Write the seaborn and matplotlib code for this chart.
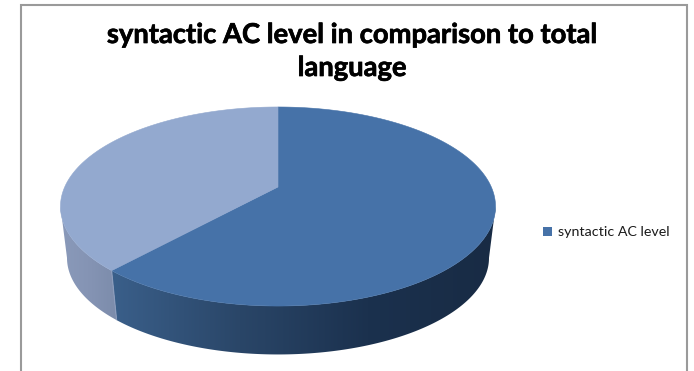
import numpy as np
import seaborn as sns
import matplotlib.pyplot as plt
import matplotlib.patheffects as pe
from matplotlib.colors import ListedColormap
from matplotlib.patches import Polygon, Rectangle

labels = ["syntactic AC level", "other language"]
shares = [61.6, 38.4]
title_lines = ["syntactic AC level in comparison to total", "language"]

sns.set_theme(style="white")
plt.rcParams["font.family"] = ["Lato", "DejaVu Sans"]

W, H = 694, 371
fig = plt.figure(figsize=(W / 100, H / 100), dpi=100)
ax = fig.add_axes([0, 0, 1, 1])
ax.axis("off")

# Perspective projection of the pie's disc onto the page
CX, APEX_Y, RX, RY, K = 278.0, 187.0, 213.3, 95.7, 0.196
DEPTH, SHRINK = 52.0, 0.97
RIM_LIMIT = np.arccos(-K)


def project(theta, floor=False):
    """Clockwise angle from twelve o'clock to page coordinates."""
    u, v = np.sin(theta), np.cos(theta)
    w = 1 + K * v
    x, y = RX * u / w, -RY * v / w
    if floor:
        return CX + SHRINK * x, APEX_Y + DEPTH + SHRINK * y
    return CX + x, APEX_Y + y


edges = np.radians(np.concatenate([[0], np.cumsum(shares)]) / sum(shares) * 360)
top_colors = ["#4672a8", "#93a9cf"]
rim_ranges = [(RIM_LIMIT, edges[1]), (edges[1], 2 * np.pi - RIM_LIMIT)]
rim_ramps = [
    sns.blend_palette(["#3a5f8a", "#2a4668", "#1b314e", "#182b44"], 256),
    sns.blend_palette(["#8a9aba", "#8594b4", "#7c8cab"], 256),
]

# Rim: a horizontal shade clipped to the outline of each visible section
for (start, end), ramp in zip(rim_ranges, rim_ramps):
    ts = np.linspace(start, end, 300)
    tx, ty = project(ts)
    bx, by = project(ts[::-1], True)
    outline = Polygon(np.column_stack([np.r_[tx, bx], np.r_[ty, by]]), closed=True,
                      transform=ax.transData, facecolor="none", edgecolor="none")
    ax.add_patch(outline)
    left, right = min(tx.min(), bx.min()), max(tx.max(), bx.max())
    shade = ax.imshow(np.linspace(0, 1, 256)[None, :], cmap=ListedColormap(ramp),
                      extent=(left, right, by.max() + 2, ty.min() - 2),
                      aspect="auto", interpolation="bilinear")
    shade.set_clip_path(outline)

# Lighter seam between the two rim sections
sx, sy = project(edges[1])
fx, fy = project(edges[1], True)
ax.plot([sx, fx], [sy, fy], color="#8c9cbc", lw=0.8, solid_capstyle="butt")

# Top surface of both wedges
for i in range(2):
    ts = np.linspace(edges[i], edges[i + 1], 240)
    xs, ys = project(ts)
    verts = [(CX, APEX_Y)] + list(zip(xs, ys))
    ax.add_patch(Polygon(verts, closed=True, facecolor=top_colors[i],
                         edgecolor=top_colors[i], linewidth=0.4))

# Chart frame, open along the lower edge
ax.plot([21, 21, 687, 687], [H, 4.5, 4.5, H], color="#9a9a9a", lw=1.5, solid_joinstyle="miter")

heavy = [pe.withStroke(linewidth=0.5, foreground="black")]
ax.text(352, 35, title_lines[0], ha="center", va="center", fontsize=19.7,
        fontweight="bold", color="black", path_effects=heavy)
ax.text(352, 68, title_lines[1], ha="center", va="center", fontsize=19.7,
        fontweight="bold", color="black", path_effects=heavy)

ax.add_patch(Rectangle((543, 227), 9, 9, facecolor=top_colors[0], edgecolor="none"))
ax.text(558, 232, labels[0], ha="left", va="center", fontsize=10.3, color="#1a1a1a")

ax.set_xlim(0, W)
ax.set_ylim(H, 0)

fig.savefig("out.png", dpi=100, facecolor="white")
